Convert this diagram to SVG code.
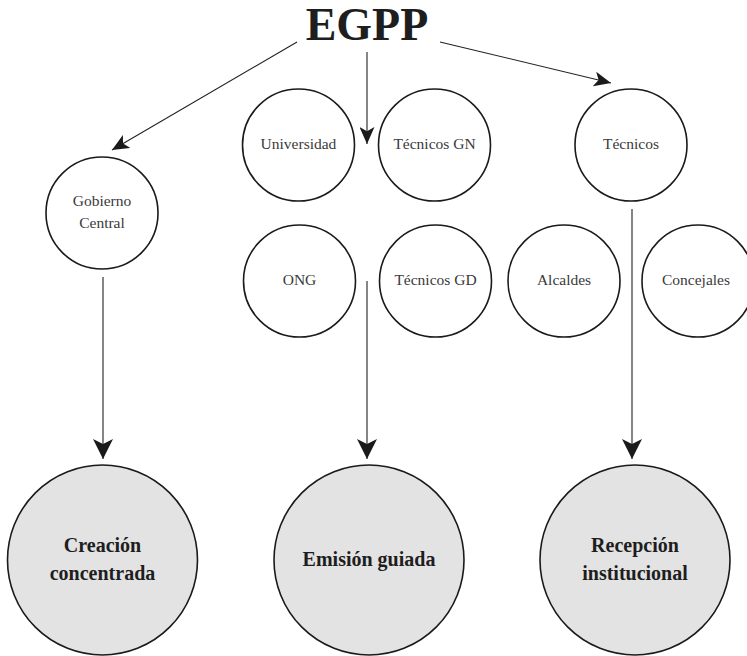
<svg xmlns="http://www.w3.org/2000/svg" width="747" height="656" viewBox="0 0 747 656">
  <defs>
    <marker id="ah" markerUnits="userSpaceOnUse" markerWidth="20" markerHeight="20" viewBox="0 0 20 20" refX="20" refY="10" orient="auto">
      <path d="M20,10 L0,0 L5,10 L0,20 Z" fill="#1a1a1a"/>
    </marker>
    <marker id="ahs" markerUnits="userSpaceOnUse" markerWidth="17" markerHeight="15" viewBox="0 0 20 20" refX="20" refY="10" orient="auto" preserveAspectRatio="none">
      <path d="M20,10 L0,0 L5,10 L0,20 Z" fill="#1a1a1a"/>
    </marker>
  </defs>
  <style>
    text { font-family: 'Liberation Serif', 'Times New Roman', Tinos, serif; }
    .c { fill: #ffffff; stroke: #1a1a1a; stroke-width: 1.6; }
    .big { fill: #e3e3e3; stroke: #1a1a1a; stroke-width: 1.6; }
    .t { font-size: 15.5px; fill: #3a3a3a; text-anchor: middle; }
    .b { font-size: 20px; font-weight: bold; fill: #1e1e1e; text-anchor: middle; }
    .title { font-size: 46px; font-weight: bold; fill: #1e1e1e; text-anchor: middle; }
    .ln { stroke: #222; stroke-width: 1.1; fill: none; }
  </style>
  <rect width="747" height="656" fill="#ffffff"/>

  <g id="egpp">
    <text class="title" x="367" y="40" font-family="Liberation Serif, serif">EGPP</text>
  </g>

  <g id="gobierno-central">
    <circle class="c" cx="102" cy="213" r="56"/>
    <text class="t" x="102" y="206">Gobierno</text>
    <text class="t" x="102" y="228">Central</text>
  </g>
  <g id="universidad">
    <circle class="c" cx="298.5" cy="145" r="56"/>
    <text class="t" x="298.5" y="149">Universidad</text>
  </g>
  <g id="tecnicos-gn">
    <circle class="c" cx="434.5" cy="145" r="56"/>
    <text class="t" x="434.5" y="149">Técnicos GN</text>
  </g>
  <g id="tecnicos">
    <circle class="c" cx="631" cy="145" r="56"/>
    <text class="t" x="631" y="149">Técnicos</text>
  </g>
  <g id="ong">
    <circle class="c" cx="299.5" cy="281" r="56"/>
    <text class="t" x="299.5" y="285">ONG</text>
  </g>
  <g id="tecnicos-gd">
    <circle class="c" cx="435.5" cy="281" r="56"/>
    <text class="t" x="435.5" y="285">Técnicos GD</text>
  </g>
  <g id="alcaldes">
    <circle class="c" cx="564" cy="281" r="56"/>
    <text class="t" x="564" y="285">Alcaldes</text>
  </g>
  <g id="concejales">
    <circle class="c" cx="698" cy="281" r="56"/>
    <text class="t" x="696" y="285">Concejales</text>
  </g>

  <g id="creacion-concentrada">
    <circle class="big" cx="102.5" cy="560" r="95"/>
    <text class="b" x="102.5" y="552">Creación</text>
    <text class="b" x="102.5" y="580">concentrada</text>
  </g>
  <g id="emision-guiada">
    <circle class="big" cx="369" cy="560" r="95"/>
    <text class="b" x="369" y="566">Emisión guiada</text>
  </g>
  <g id="recepcion-institucional">
    <circle class="big" cx="635" cy="560" r="95"/>
    <text class="b" x="635" y="552">Recepción</text>
    <text class="b" x="635" y="580">institucional</text>
  </g>

  <g id="connectors">
    <line class="ln" x1="297" y1="42" x2="112" y2="150" marker-end="url(#ahs)"/>
    <line class="ln" x1="367" y1="52" x2="367" y2="144" marker-end="url(#ahs)"/>
    <line class="ln" x1="440" y1="42" x2="611" y2="83" marker-end="url(#ahs)"/>
    <line class="ln" x1="103" y1="277" x2="103" y2="459" marker-end="url(#ah)"/>
    <line class="ln" x1="367" y1="281" x2="367" y2="459" marker-end="url(#ah)"/>
    <line class="ln" x1="632" y1="209" x2="632" y2="459" marker-end="url(#ah)"/>
  </g>
</svg>
